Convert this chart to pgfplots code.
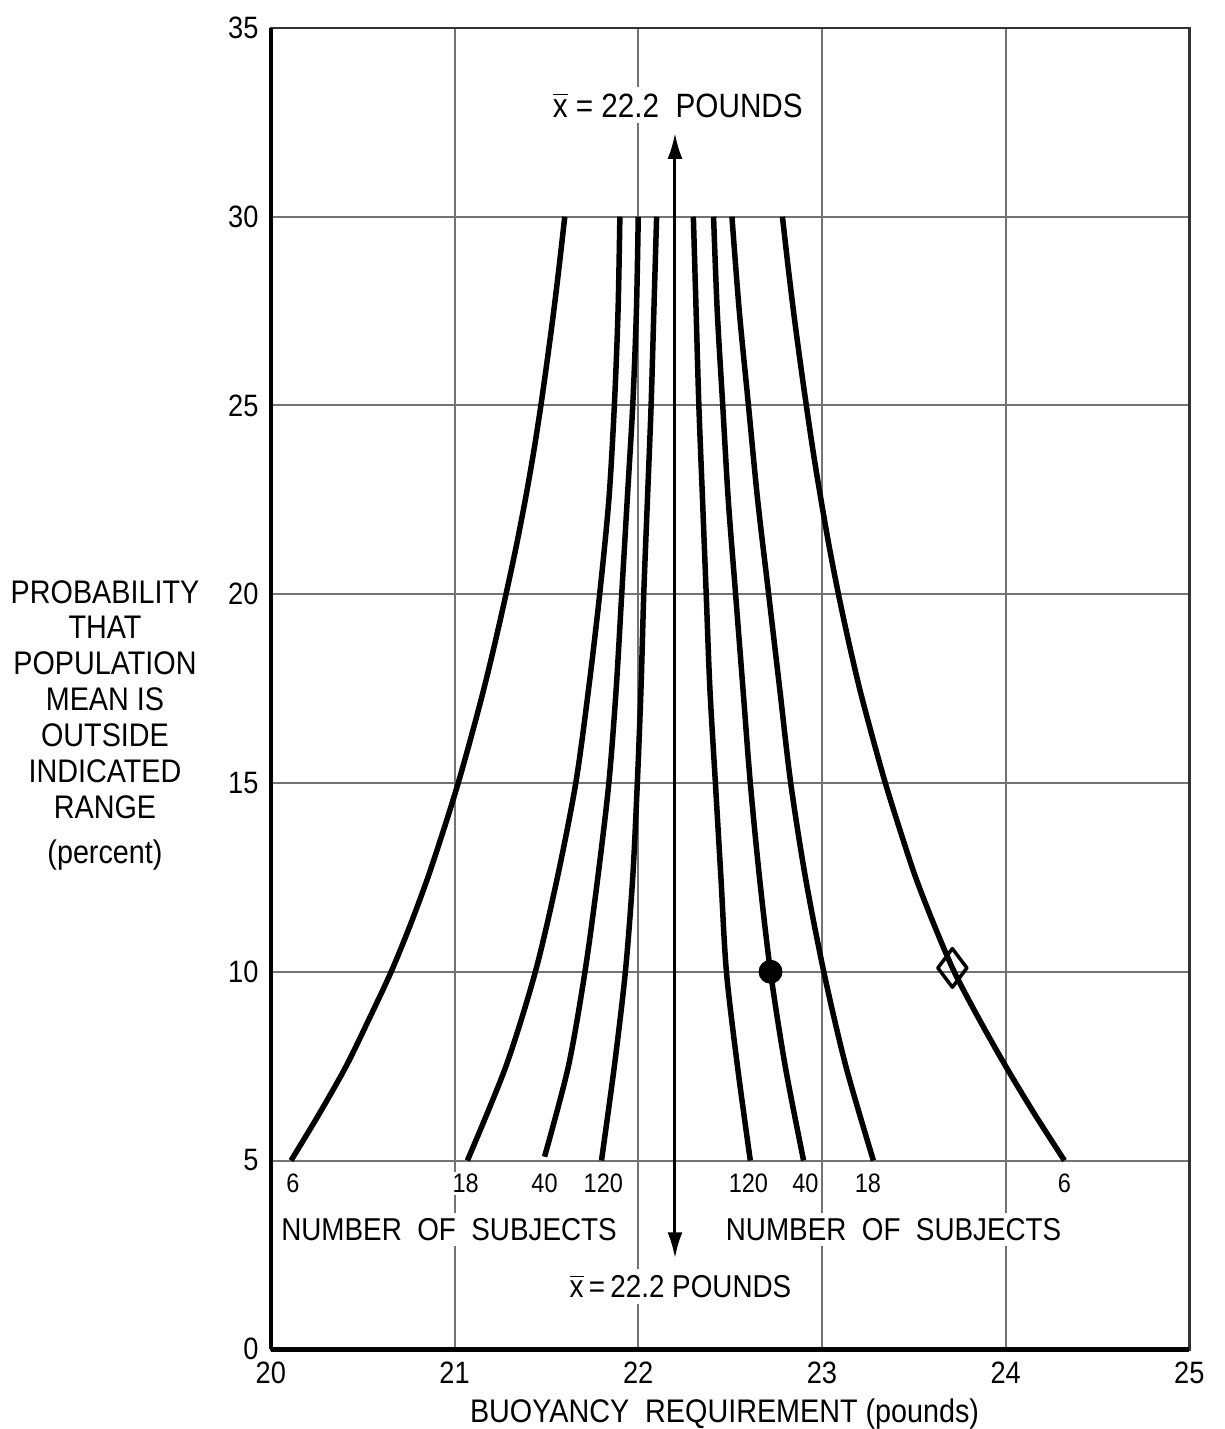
\documentclass[border=0pt]{standalone}
\usepackage{fontspec}
\setmainfont{Liberation Sans}[FakeStretch=0.88]
\usepackage{pgfplots}
\pgfplotsset{compat=1.18}
\usetikzlibrary{arrows.meta}

\begin{document}
\begin{tikzpicture}
\begin{axis}[
  scale only axis, width=91.9mm, height=132.2mm,
  xmin=20, xmax=25, ymin=0, ymax=35,
  xtick={20,21,22,23,24,25}, ytick={0,5,10,15,20,25,30,35},
  grid=major, grid style={black!55, line width=0.2mm},
  major tick length=0pt,
  axis line style={line width=0.25mm, black!80},
  tick label style={font=\fontsize{8.8}{10}\selectfont},
  /pgf/number format/assume math mode=true,
  xlabel={BUOYANCY\ \ REQUIREMENT (pounds)},
  xlabel style={font=\fontsize{9.3}{11}\selectfont, at={(axis description cs:0.494,0)}, anchor=base, inner sep=0pt, yshift=-7.3mm},
  clip=false,
  every axis plot/.append style={line join=round},
]
% n = 6
\addplot[black, line width=0.55mm, smooth] coordinates {(20.11,5) (20.265,6.25) (20.41,7.5) (20.535,8.75) (20.655,10) (20.76,11.25) (20.855,12.5) (20.94,13.75) (21.02,15) (21.092,16.25) (21.16,17.5) (21.222,18.75) (21.28,20) (21.335,21.25) (21.385,22.5) (21.43,23.75) (21.47,25) (21.506,26.25) (21.54,27.5) (21.571,28.75) (21.60,30)};
\addplot[black, line width=0.55mm, smooth] coordinates {(24.32,5) (24.155,6.25) (24.00,7.5) (23.855,8.75) (23.72,10) (23.61,11.25) (23.51,12.5) (23.425,13.75) (23.345,15) (23.273,16.25) (23.205,17.5) (23.145,18.75) (23.09,20) (23.04,21.25) (22.995,22.5) (22.953,23.75) (22.915,25) (22.879,26.25) (22.845,27.5) (22.814,28.75) (22.785,30)};
% n = 18
\addplot[black, line width=0.55mm, smooth] coordinates {(21.07,5) (21.28,7.5) (21.44,10) (21.56,12.5) (21.66,15) (21.73,17.5) (21.79,20) (21.84,22.5) (21.87,25) (21.89,27.5) (21.90,30)};
\addplot[black, line width=0.55mm, smooth] coordinates {(23.28,5) (23.13,7.5) (23.01,10) (22.91,12.5) (22.83,15) (22.77,17.5) (22.71,20) (22.65,22.5) (22.60,25) (22.55,27.5) (22.51,30)};
% n = 40
\addplot[black, line width=0.55mm, smooth] coordinates {(21.49,5.1) (21.62,7.5) (21.71,10) (21.78,12.5) (21.84,15) (21.88,17.5) (21.91,20) (21.94,22.5) (21.97,25) (21.99,27.5) (22.00,30)};
\addplot[black, line width=0.55mm, smooth] coordinates {(22.90,5) (22.80,7.5) (22.72,10) (22.66,12.5) (22.61,15) (22.57,17.5) (22.53,20) (22.49,22.5) (22.46,25) (22.43,27.5) (22.41,30)};
% n = 120
\addplot[black, line width=0.55mm, smooth] coordinates {(21.80,5) (21.87,7.5) (21.93,10) (21.97,12.5) (21.995,15) (22.015,17.5) (22.03,20) (22.05,22.5) (22.07,25) (22.085,27.5) (22.10,30)};
\addplot[black, line width=0.55mm, smooth] coordinates {(22.61,5) (22.54,7.5) (22.48,10) (22.45,12.5) (22.42,15) (22.39,17.5) (22.37,20) (22.35,22.5) (22.33,25) (22.315,27.5) (22.30,30)};
% mean arrow
\addplot[black, line width=0.3mm, {Latex[length=2.6mm,width=1.5mm]}-{Latex[length=2.6mm,width=1.5mm]}] coordinates {(22.2,2.41) (22.2,32.22)};
% markers
\addplot[only marks, mark=*, mark size=3.2pt, black] coordinates {(22.72,10)};
\addplot[only marks, mark=diamond, mark size=5.5pt, black, mark options={line width=0.35mm, fill=white}] coordinates {(23.71,10.1)};
% thick left and bottom axis lines
\draw[line width=0.5mm] (axis cs:20,0) -- (axis cs:25,0);
\draw[line width=0.4mm] (axis cs:20,0) -- (axis cs:20,35);
% labels
\begin{scope}[every node/.style={font=\fontsize{7.6}{9}\selectfont, fill=white, inner sep=0.6pt}]
\node at (axis cs:20.12,4.4) {6};
\node at (axis cs:21.06,4.4) {18};
\node at (axis cs:21.49,4.4) {40};
\node at (axis cs:21.81,4.4) {120};
\node at (axis cs:22.60,4.4) {120};
\node at (axis cs:22.91,4.4) {40};
\node at (axis cs:23.25,4.4) {18};
\node at (axis cs:24.32,4.4) {6};
\end{scope}
\begin{scope}[every node/.style={font=\fontsize{9}{10}\selectfont, fill=white, inner sep=1.5pt}]
\node at (axis cs:20.97,3.18) {NUMBER\ \ OF\ \ SUBJECTS};
\node at (axis cs:23.39,3.18) {NUMBER\ \ OF\ \ SUBJECTS};
\node at (axis cs:22.23,1.67) {$\overline{\mbox{x}}$\,=\,22.2 POUNDS};
\node[font=\fontsize{9.6}{11}\selectfont] at (axis cs:22.215,32.96) {$\overline{\mbox{x}}$ = 22.2\ \ POUNDS};
\end{scope}
\node[align=center, anchor=north, inner sep=0pt, font=\fontsize{9.3}{10.2}\selectfont] at (axis cs:19.097,20.39)
  {PROBABILITY\\THAT\\POPULATION\\MEAN IS\\OUTSIDE\\INDICATED\\RANGE\\[1mm](percent)};
\end{axis}
\path ([shift={(-27.1mm,-7.9mm)}]current axis.south west) rectangle ++(122.5mm,142.9mm);
\end{tikzpicture}
\end{document}
